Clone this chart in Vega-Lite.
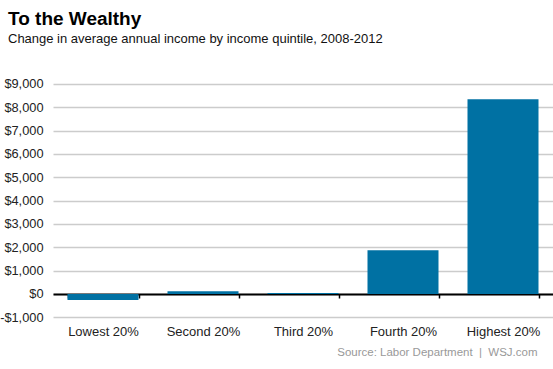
{
  "$schema": "https://vega.github.io/schema/vega-lite/v6.json",
  "autosize": "none",
  "width": 500,
  "height": 233.33,
  "padding": {"left": 53, "top": 84, "right": 0, "bottom": 52},
  "background": "white",
  "title": {
    "text": "To the Wealthy",
    "subtitle": "Change in average annual income by income quintile, 2008-2012",
    "anchor": "start",
    "frame": "group",
    "dx": -45,
    "offset": 32,
    "font": "Liberation Sans",
    "fontSize": 19,
    "fontWeight": "bold",
    "color": "#000000",
    "subtitleFont": "Liberation Sans",
    "subtitleFontSize": 13,
    "subtitleColor": "#111111",
    "subtitlePadding": 4
  },
  "data": {
    "values": [
      {"quintile": "Lowest 20%", "change": -260},
      {"quintile": "Second 20%", "change": 120},
      {"quintile": "Third 20%", "change": 40},
      {"quintile": "Fourth 20%", "change": 1870},
      {"quintile": "Highest 20%", "change": 8350}
    ]
  },
  "mark": {"type": "bar", "color": "#0071A3"},
  "encoding": {
    "x": {
      "field": "quintile",
      "type": "nominal",
      "sort": null,
      "scale": {"paddingInner": 0.29, "paddingOuter": 0.145},
      "axis": {
        "title": "Source: Labor Department \u00a0|\u00a0 WSJ.com",
        "titleX": 484,
        "titleY": 62,
        "titleAlign": "right",
        "titleAnchor": null,
        "titleBaseline": "alphabetic",
        "titleFont": "Liberation Sans",
        "titleFontSize": 11.5,
        "titleFontWeight": "normal",
        "titleColor": "#999999",
        "offset": -23.33,
        "labelAngle": 0,
        "labelFont": "Liberation Sans",
        "labelFontSize": 13,
        "labelColor": "#222222",
        "labelPadding": 28,
        "domainColor": "#000000",
        "domainWidth": 2,
        "tickColor": "#000000",
        "tickWidth": 1.5,
        "tickSize": 4,
        "tickBand": "extent",
        "grid": false
      }
    },
    "y": {
      "field": "change",
      "type": "quantitative",
      "scale": {"domain": [-1000, 9000], "nice": false, "zero": false},
      "axis": {
        "title": null,
        "values": [-1000, 0, 1000, 2000, 3000, 4000, 5000, 6000, 7000, 8000, 9000],
        "labelExpr": "datum.value < 0 ? '-$' + format(-datum.value, ',') : '$' + format(datum.value, ',')",
        "labelFont": "Liberation Sans",
        "labelFontSize": 12.8,
        "labelColor": "#222222",
        "labelPadding": 10,
        "ticks": false,
        "domain": false,
        "grid": true,
        "gridColor": "#cccccc",
        "gridWidth": 1.5
      }
    }
  },
  "config": {"view": {"stroke": null}}
}
